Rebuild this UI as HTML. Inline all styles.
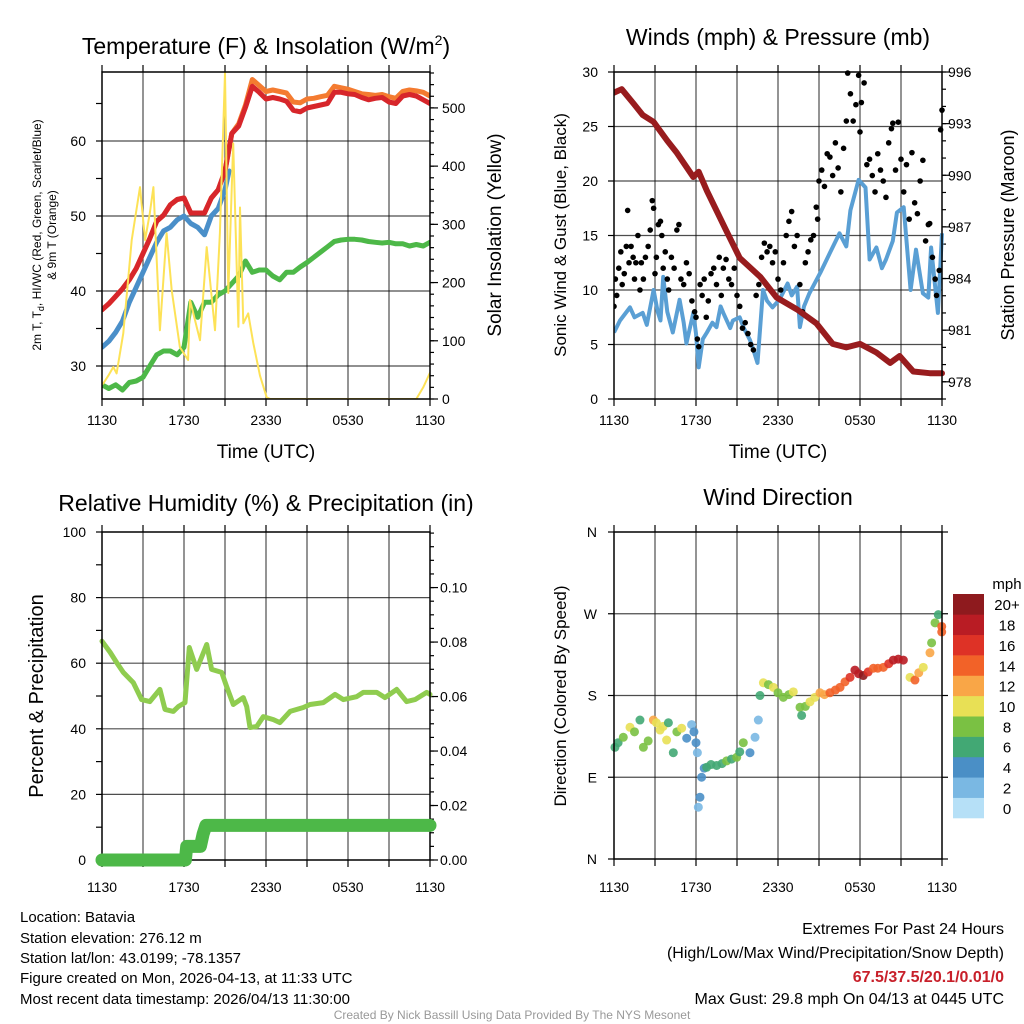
<!DOCTYPE html>
<html><head><meta charset="utf-8">
<style>
html,body{margin:0;padding:0;background:#fff;}
svg{display:block;font-family:"Liberation Sans",Arial,sans-serif;}
</style></head>
<body>
<svg id="fig" width="1024" height="1024" viewBox="0 0 1024 1024" xmlns="http://www.w3.org/2000/svg">
<rect width="1024" height="1024" fill="#fff"/>
<g id="layer"></g>
<text x="266" y="54" font-size="23" text-anchor="middle">Temperature (F) &amp; Insolation (W/m<tspan dy="-9" font-size="14">2</tspan><tspan dy="9">)</tspan></text>
<text x="778" y="45" font-size="23" text-anchor="middle">Winds (mph) &amp; Pressure (mb)</text>
<text x="266" y="511" font-size="23" text-anchor="middle">Relative Humidity (%) &amp; Precipitation (in)</text>
<text x="778" y="505" font-size="23" text-anchor="middle">Wind Direction</text>
<text x="266" y="458" font-size="19" text-anchor="middle">Time (UTC)</text>
<text x="778" y="458" font-size="19" text-anchor="middle">Time (UTC)</text>
<text transform="translate(41,235) rotate(-90)" font-size="12" text-anchor="middle">2m T, T<tspan dy="3" font-size="9">d</tspan><tspan dy="-3">, HI/WC (Red, Green, Scarlet/Blue)</tspan></text>
<text transform="translate(56,235) rotate(-90)" font-size="12" text-anchor="middle">&amp; 9m T (Orange)</text>
<text transform="translate(501,235) rotate(-90)" font-size="19" text-anchor="middle">Solar Insolation (Yellow)</text>
<text transform="translate(566,235) rotate(-90)" font-size="17" text-anchor="middle">Sonic Wind &amp; Gust (Blue, Black)</text>
<text transform="translate(1014,235) rotate(-90)" font-size="18" text-anchor="middle">Station Pressure (Maroon)</text>
<text transform="translate(43,696) rotate(-90)" font-size="20" text-anchor="middle">Percent &amp; Precipitation</text>
<text transform="translate(566,696) rotate(-90)" font-size="17" text-anchor="middle">Direction (Colored By Speed)</text>
<g font-size="15">
<text x="20" y="922">Location: Batavia</text>
<text x="20" y="943">Station elevation: 276.12 m</text>
<text x="20" y="963">Station lat/lon: 43.0199; -78.1357</text>
<text x="20" y="983">Figure created on Mon, 2026-04-13, at 11:33 UTC</text>
<text x="20" y="1004">Most recent data timestamp: 2026/04/13 11:30:00</text>
</g>
<g font-size="16" text-anchor="end">
<text x="1004" y="934">Extremes For Past 24 Hours</text>
<text x="1004" y="958">(High/Low/Max Wind/Precipitation/Snow Depth)</text>
<text x="1004" y="982" fill="#c8202a" font-weight="bold">67.5/37.5/20.1/0.01/0</text>
<text x="1004" y="1004">Max Gust: 29.8 mph On 04/13 at 0445 UTC</text>
</g>
<text x="512" y="1019" font-size="12" fill="#999" text-anchor="middle">Created By Nick Bassill Using Data Provided By The NYS Mesonet</text>
</svg>
<script>
// ---- data ----
const timeLabels = ["1130","1730","2330","0530","1130"];
const tempHours = [0,0.5,1,1.5,2,2.5,3,3.5,4,4.5,5,5.5,6,6.5,7,7.5,8,8.5,9,9.5,10,10.5,11,11.5,12,12.5,13,13.5,14,14.5,15,15.5,16,16.5,17,17.5,18,18.5,19,19.5,20,20.5,21,21.5,22,22.5,23,23.5,24];
const tempRed = [37.5,38.3,39.3,40.3,41.5,43,45,47,49.3,50.1,51.5,52.2,52.4,50.4,50.4,50.4,52.4,53.5,56,61,62,64.5,67.3,66.5,65.6,65.8,65.6,65.3,64.1,63.9,64.4,64.6,64.8,65,66.5,66.5,66.3,66.2,65.8,65.5,65.7,65.8,65.2,65,66,66.2,66,65.5,65];
const temp9m = [37.5,38.3,39.3,40.3,41.5,43,45,47,49.3,50.1,51.5,52.2,52.4,50.4,50.4,50.4,52.4,53.5,56,61,62.3,64.8,68.2,67.4,66.6,66.8,66.6,66.4,65.2,65.1,65.6,65.7,65.9,66.1,67.3,67.1,66.9,66.6,66.3,66.2,66.1,66.2,65.9,65.7,66.6,66.8,66.7,66.5,66];
const hiwcHours = [0,0.5,1,1.5,2,2.5,3,3.5,4,4.5,5,5.5,6,6.5,7,7.5,8,8.5,9,9.3];
const hiwcBlue = [32.5,33.3,34.5,36,38.5,40.5,42.5,44.5,46.5,48,48.5,49.5,50,49,48.5,47.5,50,51,53.5,56];
const dewGreen = [27.5,27,27.5,26.8,27.8,28,28.5,30,31.5,32,32,31.5,32.5,38.5,36.5,38.5,38.5,39.5,40,41,42,44,42.5,42.8,42.8,42,41.5,42.5,42.5,43.2,43.8,44.5,45.2,45.9,46.6,46.8,46.9,46.9,46.8,46.6,46.5,46.4,46.5,46.3,46.3,46,46.2,46,46.5];
const solarHours = [0,0.1,0.46,0.83,1.07,1.56,2.17,2.78,3.15,3.5,3.76,4.24,4.73,5.1,5.7,6.3,6.44,7.17,7.66,8.27,8.63,9.0,9.24,9.6,9.98,10.1,10.34,10.7,11.07,11.56,12.05,12.3,23.0,23.5,24];
const solarVals = [25,27,40,55,44,113,273,364,273,319,364,118,285,187,89,67,170,101,261,118,285,560,182,439,124,329,130,147,96,40,3,0,0,20,45];
const windHours = [0,0.44,1.17,1.5,2.1,2.4,2.9,3.2,3.4,3.6,3.9,4.3,4.8,5.1,5.3,5.8,6.0,6.2,6.5,6.8,7.2,7.5,7.8,8.0,8.5,8.7,9.2,9.5,9.95,10.2,10.5,10.9,11.2,11.6,12.1,12.7,13.0,13.4,13.6,13.9,14.3,15.1,15.8,16.5,17.0,17.3,17.9,18.4,18.7,19.2,19.6,19.9,20.4,20.7,21.2,21.7,22.1,22.6,23.0,23.2,23.7,24];
const windVals = [6.1,7.2,8.4,7.5,7.9,6.8,10,8,7.2,11.2,8,6.1,9.1,7,5.1,7.9,6,2.9,5.5,6.1,7,6.6,8.5,7.9,6.5,7.2,7.5,6.5,5.4,4.5,3.3,10,9,8.4,9.1,10.6,9.5,10.3,6.6,8.5,9.7,11.6,13.4,15.2,14,17.3,20.1,19.4,12.8,13.9,12,12.8,14.5,17.1,17.6,10,13.7,9.7,9.3,13.9,7.9,15.2];
const gustHours = [0,0.1,0.2,0.35,0.5,0.6,0.75,0.9,1.0,1.1,1.25,1.4,1.5,1.6,1.75,1.9,2.0,2.15,2.3,2.5,2.65,2.8,2.9,3.0,3.1,3.25,3.4,3.5,3.6,3.75,3.9,4.0,4.2,4.4,4.6,4.75,4.9,5.1,5.3,5.5,5.7,5.9,6.0,6.1,6.2,6.3,6.45,6.6,6.75,6.9,7.1,7.3,7.5,7.7,7.85,8.0,8.2,8.4,8.6,8.8,9.0,9.2,9.4,9.6,9.8,10.0,10.2,10.4,10.6,10.8,11.0,11.2,11.4,11.6,11.8,12.0,12.2,12.4,12.6,12.8,13.0,13.2,13.4,13.6,13.8,14.0,14.2,14.4,14.6,14.8,14.9,15.0,15.2,15.4,15.6,15.8,16.0,16.2,16.4,16.6,16.8,17.0,17.1,17.3,17.5,17.7,17.9,18.0,18.1,18.3,18.5,18.7,18.9,19.1,19.3,19.5,19.7,19.9,20.1,20.3,20.4,20.6,20.8,21.0,21.2,21.4,21.6,21.8,22.0,22.2,22.4,22.6,22.8,23.0,23.1,23.3,23.5,23.6,23.8,23.9,24.0];
const gustVals = [8.5,11,9.5,12,13.5,10.5,11.5,14,17.3,12.5,14,13,11,12.5,15,10,12.5,11,13,14,15.5,18.2,17.5,11.5,13,16,16.3,15,12,13.5,11,10,13,12,15.5,16,11,10.5,12.5,11.5,9,8,7.5,5.5,4.8,10.5,9.5,11,7.5,9,11.5,12,10.5,13,9.5,12,12.8,11,10.5,12,9.5,8.5,6.5,7,6,5,4.5,9.5,10.5,13,14.3,13.5,14,12.5,13.5,11,10,12.5,15,16.3,17.2,14,15,10.5,8,12.5,13.5,14.6,15,17.6,16.5,20,21,19.5,22.5,22.2,20.5,23.5,21.2,19,23,25.5,29.9,28,25.5,27,29.7,24.5,27.2,29,21.5,22,20.5,19,22.5,21,20,18.5,23.5,24.8,25.3,21,25.4,22,19,21.5,16.5,22.6,18,17,20,21.9,14.5,16,16.1,13,11,9.5,11.8,24.7,26.5];
const presHours = [0,0.56,1.4,2.1,2.9,3.9,4.6,5.8,6.2,6.8,8.2,9.2,10.7,11.9,13.4,14.8,16.0,17.0,18.0,19.2,20.2,20.9,21.9,23.1,24];
const presVals = [994.8,995,994.2,993.5,993.1,992,991.3,989.9,990.2,989.1,986.8,985.2,984.1,982.9,982.2,981.4,980.2,980,980.2,979.7,979.1,979.5,978.6,978.5,978.5];
const rhHours = [0,0.6,1.07,1.56,2.29,2.9,3.5,4.24,4.61,5.22,5.59,6.07,6.39,6.93,7.66,8.02,8.76,9.12,9.61,10.34,10.59,10.83,11.32,11.8,12.54,13.02,13.76,14.73,15.22,16.2,17.05,17.66,18.63,19.12,20.1,20.71,21.56,22.29,22.9,23.76,24];
const rhVals = [66.7,63.3,60.2,57.2,54.1,48.9,48.3,52,45.9,45.3,46.8,48,64.8,58.1,65.7,58.1,57.2,52.9,47.4,49.5,46.8,40.4,40.7,43.7,42.8,41.9,45.3,46.5,47.4,48,50.5,48.9,49.8,51.1,51.1,49.5,52,48.3,48.9,51.1,50.5];
const precipHours = [0,6.1,6.2,7.2,7.4,7.6,24];
const precipVals = [0,0,0.005,0.005,0.0095,0.0127,0.0127];
const dirHours = [0.07,0.3,0.68,1.17,1.5,1.9,2.15,2.5,2.88,3.1,3.37,3.6,3.85,3.98,4.34,4.6,4.95,5.32,5.68,5.85,6.0,6.1,6.17,6.29,6.41,6.6,6.78,7.1,7.51,7.9,8.24,8.6,8.98,9.2,9.46,9.95,10.32,10.56,10.68,10.93,11.3,11.66,12.0,12.39,12.8,13.12,13.61,13.73,14.0,14.34,14.7,15.07,15.4,15.8,16.2,16.54,16.9,17.27,17.63,17.9,18.24,18.6,18.98,19.3,19.71,20.1,20.44,20.8,21.17,21.66,22.02,22.3,22.63,23.12,23.24,23.49,23.73,23.98,23.98];
const dirVals = [123,128,134,145,140,153,123,130,153,150,142,146,131,150,117,140,144,133,148,140,128,117,57,68,90,100,101,104,103,105,108,110,112,118,128,117,134,153,180,194,192,189,183,178,181,184,167,158,168,173,178,183,181,183,186,189,195,200,208,204,202,206,210,210,211,215,219,220,219,200,197,205,211,227,238,260,269,256,250];
const dirSpeeds = [6,7,8,10,8,6,8,9,12,11,10,10,10,6,6,9,10,4,2,4,4,2,2,4,4,5,6,6,6,7,8,7,8,7,8,4,2,2,6,10,9,10,9,8,9,10,8,6,9,10,11,12,13,14,14,14,15,16,18,19,20,17,14,15,14,16,18,18,18,10,14,12,10,12,8,8,6,14,14];
const speedBins = ["0","2","4","6","8","10","12","14","16","18","20+"];
const speedColors = ["#b6e0f7","#7ab8e3","#4a8fc6","#42a874","#7ac143","#e8e055","#f9a647","#f26228","#de3226","#b91c24","#8e1a1e"];

// ---- helpers ----
const NS = "http://www.w3.org/2000/svg";
const layer = document.getElementById("layer");
function mk(tag, attrs, parent){ const e=document.createElementNS(NS,tag); for(const k in attrs) e.setAttribute(k,attrs[k]); (parent||layer).appendChild(e); return e; }
function lin(d0,d1,r0,r1){ return v => r0 + (v-d0)*(r1-r0)/(d1-d0); }
function pathOf(xs,ys,fx,fy){ return xs.map((t,i)=>(i?"L":"M")+fx(t).toFixed(1)+","+fy(ys[i]).toFixed(1)).join(""); }

function panelFrame(name,x0,x1,y0,y1,hGridVals,fy,labelY){
  const g=mk("g",{});
  
  
  const fx=lin(0,24,x0,x1);
  for(let h=3;h<24;h+=3){ mk("line",{x1:fx(h),x2:fx(h),y1:y0,y2:y1,stroke:"#111","stroke-width":1.2,"stroke-opacity":0.75},g); }
  hGridVals.forEach(v=>{ mk("line",{x1:x0,x2:x1,y1:fy(v),y2:fy(v),stroke:"#111","stroke-width":1.2,"stroke-opacity":0.75},g); });
  for(let h=0;h<=24;h+=3){ mk("line",{x1:fx(h),x2:fx(h),y1:y1,y2:y1+7,stroke:"#000","stroke-width":1.2},g); mk("line",{x1:fx(h),x2:fx(h),y1:y0-7,y2:y0,stroke:"#000","stroke-width":1.2},g); }
  timeLabels.forEach((lb,i)=>{ const t=mk("text",{x:fx(i*6),y:labelY,"font-size":14,"text-anchor":"middle"},g); t.textContent=lb;
    
     });
  return {g,fx};
}
function border(x0,x1,y0,y1){ const r=mk("rect",{x:x0,y:y0,width:x1-x0,height:y1-y0,fill:"none",stroke:"#000","stroke-width":1.5});
  
   }
function yTicks(g,x,dir,vals,fy,len,labels,anchorX,anchor){
  vals.forEach((v,i)=>{ mk("line",{x1:x,x2:x+dir*len,y1:fy(v),y2:fy(v),stroke:"#000","stroke-width":1.2},g);
    if(labels && labels[i]!=null){ const t=mk("text",{x:anchorX,y:fy(v)+5,"font-size":14,"text-anchor":anchor},g); t.textContent=labels[i];
      
       } });
}
function range(a,b,s){ const r=[]; for(let v=a;v<=b+1e-9;v+=s) r.push(+v.toFixed(4)); return r; }

// ---- Panel 1: temperature ----
(function(){
  const x0=102,x1=430,y0=72,y1=399;
  const fyT=lin(25.6,69.2,y1,y0), fyS=lin(0,561.7,y1,y0);
  const {g,fx}=panelFrame("temperature",x0,x1,y0,y1,[30,40,50,60],fyT,425);
  yTicks(g,x0,-1,range(30,65,5),fyT,6,["30",null,"40",null,"50",null,"60",null],86,"end");
  yTicks(g,x1,1,range(0,560,20),fyS,4,null);
  yTicks(g,x1,1,range(0,500,100),fyS,8,["0","100","200","300","400","500"],442,"start");
  const clip=mk("clipPath",{id:"c1"}); mk("rect",{x:x0,y:y0,width:x1-x0,height:y1-y0},clip);
  const s=mk("g",{"clip-path":"url(#c1)"});
  const lines=[["dewpoint-line",tempHours,dewGreen,fyT,"#4db848",5],["hiwc-line",hiwcHours,hiwcBlue,fyT,"#4a8fc9",5],["temp-9m-line",tempHours,temp9m,fyT,"#f47b30",5],["temp-2m-line",tempHours,tempRed,fyT,"#d7262b",5],["solar-line",solarHours,solarVals,fyS,"#fde257",2]];
  lines.forEach(L=>{ const p=mk("path",{d:pathOf(L[1],L[2],fx,L[3]),fill:"none",stroke:L[4],"stroke-width":L[5],"stroke-linejoin":"round","stroke-linecap":"round"},s);
    
     });
  border(x0,x1,y0,y1);
})();

// ---- Panel 2: winds ----
(function(){
  const x0=614,x1=942,y0=72,y1=399;
  const fyW=lin(0,30,y1,y0), fyP=lin(977.0,996,y1,y0);
  const {g,fx}=panelFrame("winds",x0,x1,y0,y1,[5,10,15,20,25],fyW,425);
  yTicks(g,x0,-1,range(0,30,5),fyW,6,["0","5","10","15","20","25","30"],598,"end");
  yTicks(g,x1,1,range(977,996,1),fyP,4,null);
  yTicks(g,x1,1,range(978,996,3),fyP,8,["978","981","984","987","990","993","996"],948,"start");
  const clip=mk("clipPath",{id:"c2"}); mk("rect",{x:x0,y:y0-3,width:x1-x0+4,height:y1-y0+3},clip);
  const s=mk("g",{"clip-path":"url(#c2)"});
  const w=mk("path",{d:pathOf(windHours,windVals,fx,fyW),fill:"none",stroke:"#5a9fd4","stroke-width":4,"stroke-linejoin":"round"},s);
  
  
  gustHours.forEach((t,i)=>{ const c=mk("circle",{cx:fx(t),cy:fyW(gustVals[i]),r:2.8,fill:"#000"},s);
    
     });
  const p=mk("path",{d:pathOf(presHours,presVals,fx,fyP),fill:"none",stroke:"#981c1e","stroke-width":6,"stroke-linejoin":"round","stroke-linecap":"round"},s);
  
  
  border(x0,x1,y0,y1);
})();

// ---- Panel 3: humidity ----
(function(){
  const x0=102,x1=430,y0=532,y1=860;
  const fyR=lin(0,100,y1,y0), fyQ=lin(0,0.1204,y1,y0);
  const {g,fx}=panelFrame("humidity",x0,x1,y0,y1,[20,40,60,80],fyR,892);
  yTicks(g,x0,-1,range(0,100,10),fyR,6,["0",null,"20",null,"40",null,"60",null,"80",null,"100"],86,"end");
  yTicks(g,x1,1,range(0,0.12,0.005),fyQ,4,null);
  yTicks(g,x1,1,range(0,0.1,0.02),fyQ,8,["0.00","0.02","0.04","0.06","0.08","0.10"],440,"start");
  const r=mk("path",{d:pathOf(rhHours,rhVals,fx,fyR),fill:"none",stroke:"#8fcc4f","stroke-width":5,"stroke-linejoin":"round","stroke-linecap":"round"});
  
  
  border(x0,x1,y0,y1);
  const q=mk("path",{d:pathOf(precipHours,precipVals,fx,fyQ),fill:"none",stroke:"#4db848","stroke-width":13,"stroke-linejoin":"round","stroke-linecap":"round"});
  
  
})();

// ---- Panel 4: wind direction ----
(function(){
  const x0=614,x1=942,y0=532,y1=859;
  const fyD=lin(0,360,y1,y0);
  const {g,fx}=panelFrame("direction",x0,x1,y0,y1,[90,180,270],fyD,892);
  yTicks(g,x0,-1,range(0,360,90),fyD,6,["N","E","S","W","N"],597,"end");
  yTicks(g,x1,1,range(0,360,90),fyD,6,null);
  dirHours.forEach((t,i)=>{ const b=Math.min(10,Math.floor(dirSpeeds[i]/2));
    const c=mk("circle",{cx:fx(t),cy:fyD(dirVals[i]),r:4.5,fill:speedColors[b],"fill-opacity":0.9});
    
     });
  border(x0,x1,y0,y1);
  const cb=mk("g",{});
  
  
  const t0=mk("text",{x:1007,y:589,"font-size":15,"text-anchor":"middle"},cb); t0.textContent="mph";
  
  
  const h=224/11;
  speedBins.forEach((lb,i)=>{ const y=594+(10-i)*h;
    const r=mk("rect",{x:953,y:y,width:31,height:h+0.3,fill:speedColors[i]},cb);
    
    
    const t=mk("text",{x:1007,y:y+h/2+6,"font-size":15,"text-anchor":"middle"},cb); t.textContent=lb;
    
     });
})();
</script>
</body></html>
